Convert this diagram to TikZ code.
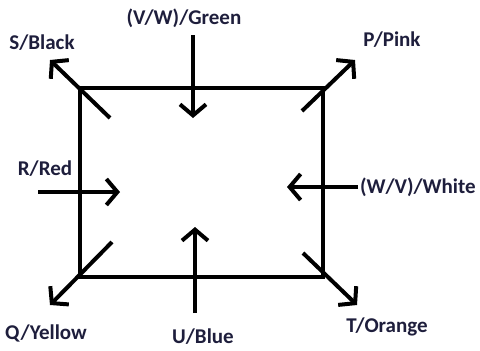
\documentclass[tikz,border=0pt]{standalone}
\usepackage{fontspec}
\setmainfont{Carlito}
\usetikzlibrary{arrows.meta}
\definecolor{LabelInk}{HTML}{1E1E3C}

\begin{document}
\begin{tikzpicture}[x=1pt, y=-1pt, line width=4pt,
  lbl/.style={text=LabelInk, inner sep=0pt, font=\fontsize{21}{24}\bfseries},
  dir/.style={-{Straight Barb[length=11pt, width=26pt, line width=4pt]}}]%
\useasboundingbox (0,0) rectangle (480,351);%
% box
\coordinate (nw) at (80,88);%
\coordinate (ne) at (323,88);%
\coordinate (se) at (323,277);%
\coordinate (sw) at (80,277);%
\draw (nw) -- (ne) -- (se) -- (sw) -- cycle;%
% labels
\node[lbl] (green) at (184,18) {(V/W)/Green};%
\node[lbl] (black) at (42,43) {S/Black};%
\node[lbl] (pink) at (392,40) {P/Pink};%
\node[lbl] (red) at (45,169) {R/Red};%
\node[lbl, anchor=west] (white) at (358,187) {(W/V)/White};%
\node[lbl] (yellow) at (46,333) {Q/Yellow};%
\node[lbl] (blue) at (203,337) {U/Blue};%
\node[lbl] (orange) at (387,327) {T/Orange};%
% arrow ends
\coordinate (s0) at (110,118); \coordinate (s1) at (50,60);%
\coordinate (p0) at (302,111); \coordinate (p1) at (355,60);%
\coordinate (q0) at (112,242); \coordinate (q1) at (50,305);%
\coordinate (t0) at (303,253); \coordinate (t1) at (357,305);%
\coordinate (g0) at (193,35); \coordinate (g1) at (193,118);%
\coordinate (r0) at (38,192); \coordinate (r1) at (120,192);%
\coordinate (u0) at (195,313); \coordinate (u1) at (195,227);%
\coordinate (w1) at (287,187);%
% arrows
\draw[dir] (s0) -- (s1);%
\draw[dir] (p0) -- (p1);%
\draw[dir] (q0) -- (q1);%
\draw[dir] (t0) -- (t1);%
\draw[dir] (g0) -- (g1);%
\draw[dir] (r0) -- (r1);%
\draw[dir] (u0) -- (u1);%
\draw[dir] (white.west) -- (w1);%
\end{tikzpicture}
\end{document}
